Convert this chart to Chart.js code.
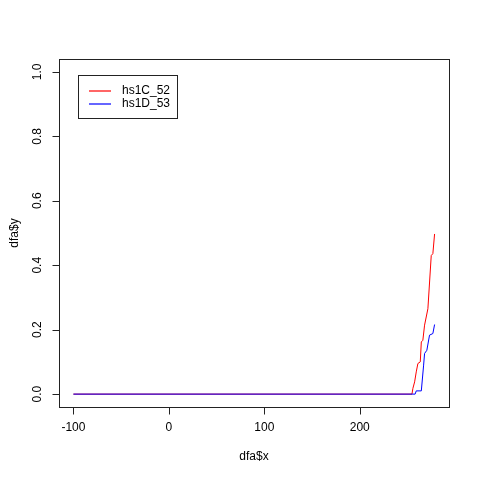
<!DOCTYPE html>
<html>
<head>
<meta charset="utf-8">
<script src="https://cdn.jsdelivr.net/npm/chart.js@4/dist/chart.umd.min.js"></script>
<style>
  body { margin: 0; background: #fff; }
  canvas { display: block; }
</style>
</head>
<body>
<canvas id="c" width="480" height="480"></canvas>
<script>
// values
const seriesNames = ['hs1C_52', 'hs1D_53'];
const seriesColors = ['#ff0000', '#0000ff'];
const keyColors = ['rgba(255,0,0,0.6)', 'rgba(0,0,255,0.6)'];
const redX = [-100, 254.7, 255.7, 257.5, 259.2, 260.9, 263.4, 264.5, 266.1, 267.9, 271.4, 274.9, 276.6, 278.4];
const redY = [0, 0, 0.018, 0.038, 0.069, 0.095, 0.100, 0.162, 0.167, 0.214, 0.265, 0.430, 0.436, 0.497];
const blueX = [-100, 258.0, 259.2, 264.5, 266.9, 267.9, 270.3, 273.1, 276.6, 278.4];
const blueY = [0, 0, 0.010, 0.010, 0.090, 0.126, 0.136, 0.183, 0.188, 0.216];
const xTicks = [-100, 0, 100, 200];
const yTicks = [0, 0.2, 0.4, 0.6, 0.8, 1.0];

const pts = (xs, ys) => xs.map((x, i) => ({ x: x, y: ys[i] }));
const FONT = '12px "Liberation Sans", Arial, sans-serif';

// R-style axes, box and legend
const baseAxes = {
  id: 'baseAxes',
  beforeDraw(chart) {
    const ctx = chart.ctx;
    ctx.save();
    ctx.fillStyle = '#fff';
    ctx.fillRect(0, 0, chart.width, chart.height);
    ctx.restore();
  },
  afterDraw(chart) {
    const ctx = chart.ctx;
    const a = chart.chartArea;
    const xs = chart.scales.x, ys = chart.scales.y;
    ctx.save();
    ctx.strokeStyle = '#222';
    ctx.lineWidth = 1;
    ctx.setLineDash([]);
    ctx.strokeRect(Math.round(a.left) + 0.5, Math.round(a.top) + 0.5,
                   Math.round(a.right - a.left), Math.round(a.bottom - a.top));

    ctx.fillStyle = '#000';
    ctx.font = FONT;

    // x axis
    const bx = Math.round(a.bottom) + 0.5;
    ctx.beginPath();
    ctx.moveTo(Math.round(xs.getPixelForValue(xTicks[0])) + 0.5, bx);
    ctx.lineTo(Math.round(xs.getPixelForValue(xTicks[xTicks.length - 1])) + 0.5, bx);
    xTicks.forEach(v => {
      const px = Math.round(xs.getPixelForValue(v)) + 0.5;
      ctx.moveTo(px, bx);
      ctx.lineTo(px, bx + 7);
    });
    ctx.stroke();
    ctx.textAlign = 'center';
    ctx.textBaseline = 'middle';
    xTicks.forEach(v => ctx.fillText(String(v), xs.getPixelForValue(v), 428));
    ctx.fillText('dfa$x', (a.left + a.right) / 2, 457);

    // y axis
    const lx = Math.round(a.left) + 0.5;
    ctx.beginPath();
    ctx.moveTo(lx, Math.round(ys.getPixelForValue(yTicks[0])) + 0.5);
    ctx.lineTo(lx, Math.round(ys.getPixelForValue(yTicks[yTicks.length - 1])) + 0.5);
    yTicks.forEach(v => {
      const py = Math.round(ys.getPixelForValue(v)) + 0.5;
      ctx.moveTo(lx, py);
      ctx.lineTo(lx - 7, py);
    });
    ctx.stroke();
    yTicks.forEach(v => {
      ctx.save();
      ctx.translate(38, ys.getPixelForValue(v));
      ctx.rotate(-Math.PI / 2);
      ctx.fillText(v.toFixed(1), 0, 0);
      ctx.restore();
    });
    ctx.save();
    ctx.translate(15, (a.top + a.bottom) / 2);
    ctx.rotate(-Math.PI / 2);
    ctx.fillText('dfa$y', 0, 0);
    ctx.restore();

    // legend box
    ctx.strokeStyle = '#222';
    ctx.strokeRect(78.5, 75.5, 99, 43);
    ctx.restore();

    // legend keys (soft 2px strips like the reference)
    for (let i = 0; i < seriesNames.length; i++) {
      const y = 90 + i * 13;
      ctx.save();
      ctx.fillStyle = keyColors[i];
      ctx.fillRect(89, y, 22, 2);
      ctx.fillStyle = '#000';
      ctx.font = FONT;
      ctx.textAlign = 'left';
      ctx.textBaseline = 'middle';
      ctx.fillText(seriesNames[i], 122, y + 1);
      ctx.restore();
    }
  }
};

new Chart(document.getElementById('c'), {
  type: 'scatter',
  data: {
    datasets: [
      { label: seriesNames[0], data: pts(redX, redY), showLine: true, borderColor: seriesColors[0],
        borderWidth: 1, pointRadius: 0, tension: 0, order: 2 },
      { label: seriesNames[1], data: pts(blueX, blueY), showLine: true, borderColor: seriesColors[1],
        borderWidth: 1, pointRadius: 0, tension: 0, order: 1 }
    ]
  },
  options: {
    responsive: false,
    animation: false,
    devicePixelRatio: 1,
    layout: { padding: { left: 59, top: 59, right: 31, bottom: 73 } },
    plugins: { legend: { display: false }, tooltip: { enabled: false } },
    scales: {
      x: { type: 'linear', min: -115.1, max: 293.5, display: false },
      y: { type: 'linear', min: -0.04, max: 1.04, display: false }
    }
  },
  plugins: [baseAxes]
});
</script>
</body>
</html>
